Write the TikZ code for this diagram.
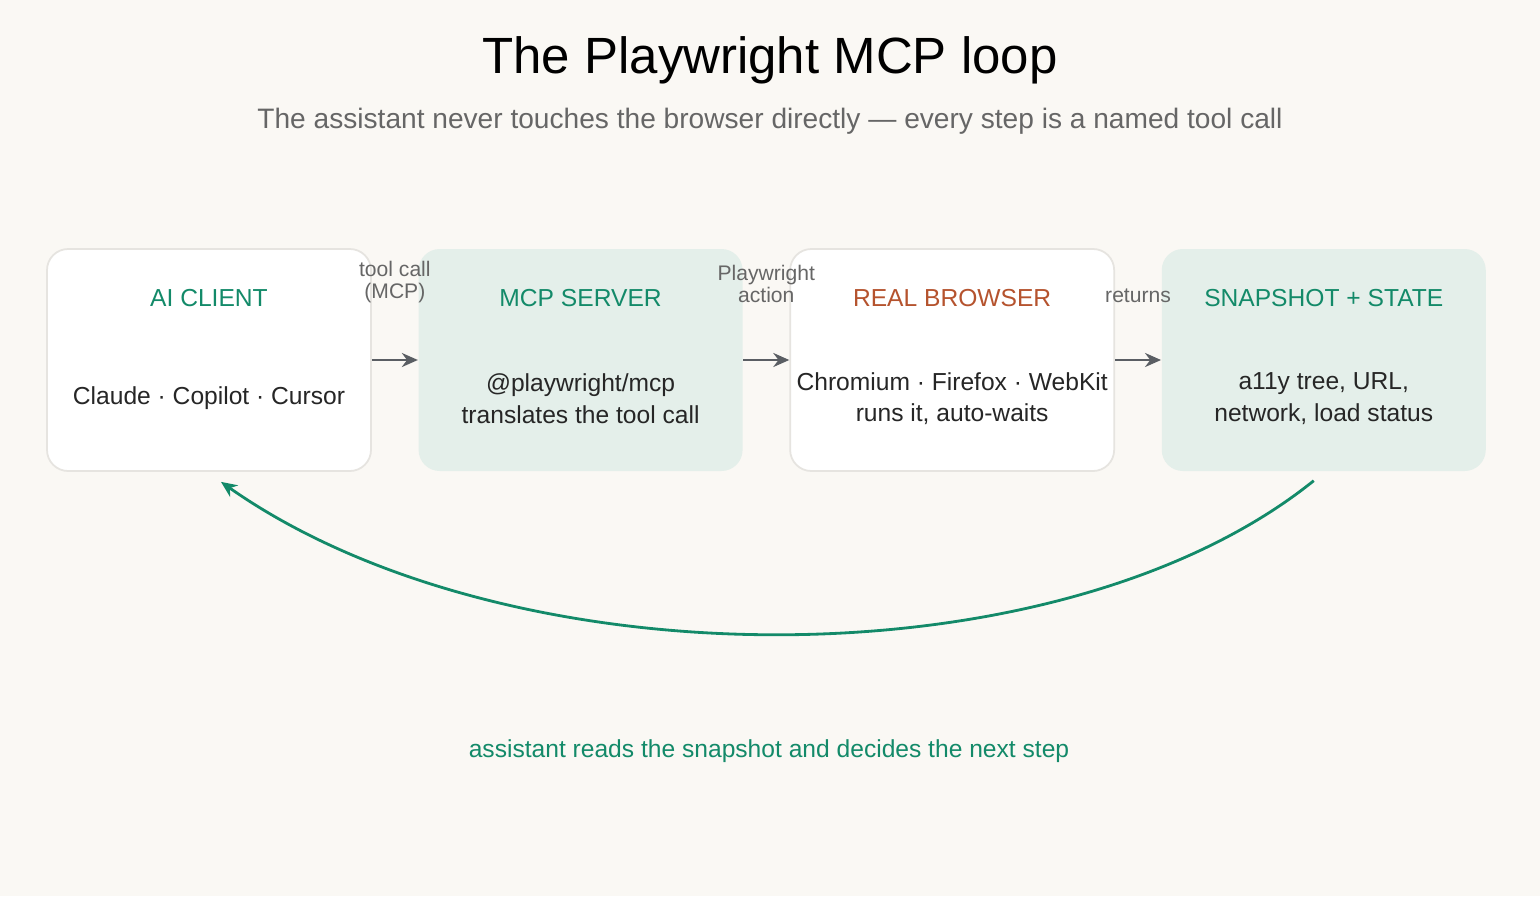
\documentclass[tikz,border=0pt]{standalone}
\usepackage{fontspec}
\setmainfont{Liberation Sans}
\usetikzlibrary{arrows.meta,positioning}
\definecolor{bgcol}{HTML}{FAF8F4}
\definecolor{mint}{HTML}{E4EFEA}
\definecolor{teal}{HTML}{138A69}
\definecolor{rust}{HTML}{B5532E}
\definecolor{edgegray}{HTML}{5A5E63}
\definecolor{boxline}{HTML}{E6E4E0}

\begin{document}
\begin{tikzpicture}[>={Stealth[length=3.2mm,width=2.8mm]},auto,thick]
\tikzstyle{stage}=[shape=rectangle,rounded corners=12pt,minimum width=6.48cm,minimum height=4.44cm,inner sep=0pt]
\tikzstyle{plain}=[stage,draw=boxline,line width=1pt,fill=white]
\tikzstyle{tint}=[stage,fill=mint]
\tikzstyle{head}=[font=\fontsize{14}{16}\selectfont]
\tikzstyle{body}=[font=\fontsize{14}{18}\selectfont,text=black!85,align=center]
\tikzstyle{hop}=[->,edgegray,line width=1.6pt]
\tikzstyle{note}=[font=\fontsize{12}{12.5}\selectfont,text=black!60,align=center]

\fill[bgcol] (0,0) rectangle (30.8,-17.92);
\useasboundingbox (0,0) rectangle (30.8,-17.92);

\node (title) at (15.4,-1.2) {\fontsize{29}{32}\selectfont The Playwright MCP loop};
\node (sub) at (15.4,-2.42) [text=black!60] {\fontsize{16}{18}\selectfont The assistant never touches the browser directly — every step is a named tool call};

\node[plain]		(A) at (4.18,-7.2) {};
\node[tint]		(B) [right=0.92cm of A] {};
\node[plain]		(C) [right=0.92cm of B] {};
\node[tint]		(D) [right=0.92cm of C] {};

\node[head,text=teal]	(Ah) at ([yshift=-1cm]A.north) {AI CLIENT};
\node[head,text=teal]	(Bh) at ([yshift=-1cm]B.north) {MCP SERVER};
\node[head,text=rust]	(Ch) at ([yshift=-1cm]C.north) {REAL BROWSER};
\node[head,text=teal]	(Dh) at ([yshift=-1cm]D.north) {SNAPSHOT + STATE};

\node[body]		(Ab) at ([yshift=-0.77cm]A.center) {Claude · Copilot · Cursor};
\node[body]		(Bb) at ([yshift=-0.77cm]B.center) {@playwright/mcp\\translates the tool call};
\node[body]		(Cb) at ([yshift=-0.77cm]C.center) {Chromium · Firefox · WebKit\\runs it, auto-waits};
\node[body]		(Db) at ([yshift=-0.77cm]D.center) {a11y tree, URL,\\network, load status};

\draw[hop] (A.east) -- node[note,above=1cm,midway] {tool call\\(MCP)} (B.west);
\draw[hop] (B.east) -- node[note,above=1cm,midway] {Playwright\\action} (C.west);
\draw[hop] (C.east) -- node[note,above=1cm,midway] {returns} (D.west);

\coordinate (out) at ([xshift=-0.2cm,yshift=-0.18cm]D.south);
\coordinate (in) at ([xshift=0.24cm,yshift=-0.2cm]A.south);
\draw[->,teal,line width=1.6pt] (out) .. controls (21.2,-13.7) and (10.2,-13.7) .. (in);

\node (loop) at (15.38,-15.02) [text=teal] {\fontsize{14}{16}\selectfont assistant reads the snapshot and decides the next step};
\end{tikzpicture}
\end{document}
